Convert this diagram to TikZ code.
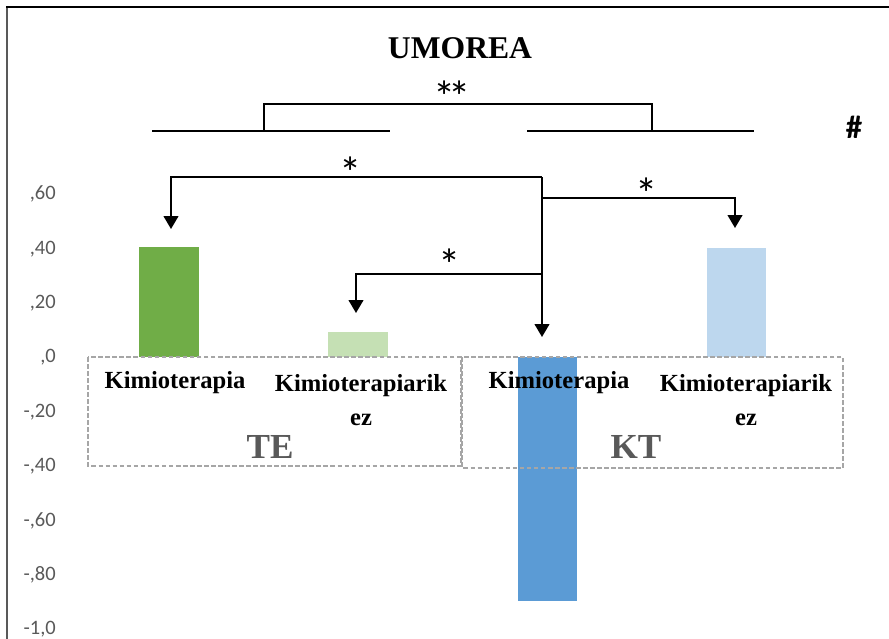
\documentclass[tikz,border=0pt]{standalone}
\usepackage{fontspec}
\setmainfont{Liberation Serif}
\newfontfamily\calib{Carlito}
\usetikzlibrary{arrows.meta}
\definecolor{tedark}{HTML}{70AD47}
\definecolor{telight}{HTML}{C5E0B4}
\definecolor{ktdark}{HTML}{5B9BD5}
\definecolor{ktlight}{HTML}{BDD7EE}
\definecolor{boxgray}{HTML}{A6A6A6}
\definecolor{labgray}{HTML}{595959}
\begin{document}
\begin{tikzpicture}[x=0.03cm, y=-0.03cm,
    arr/.style={-{Triangle[length=11pt,width=12.5pt]}, line width=1.6pt},
    brk/.style={line width=1.6pt},
    grp box/.style={draw=boxgray, line width=1.2pt, dash pattern=on 4pt off 2pt},
    cat/.style={font=\bfseries\fontsize{21}{29}\selectfont, align=center},
    grp/.style={font=\bfseries\fontsize{30}{34}\selectfont, text=labgray},
    tick/.style={anchor=east, inner sep=0pt, text=labgray, font=\calib\fontsize{17.5}{20}\selectfont},
    star/.style={font=\calib\fontsize{38}{40}\selectfont}]
        \useasboundingbox (0,0) rectangle (889,639);
        \draw[line width=1.7pt, labgray] (7,639) -- (7,7);
        \draw[line width=1.7pt] (6,7) -- (889,7);

          \foreach \t [count=\i from 0] in {{,60},{,40},{,20},{,0},{-,20},{-,40},{-,60},{-,80},{-1,0}}
            \node[tick] (y\i) at (56,194.3+54.4*\i) {\t};

          \fill[tedark] (139,247) rectangle (199,357);
          \fill[telight] (328,332) rectangle (388,357);
          \fill[ktdark] (518,357) rectangle (577,601);
          \fill[ktlight] (707,248) rectangle (766,357);

          \draw[grp box] (88,357) rectangle (461,466);
          \draw[grp box] (462,357) rectangle (843,468);

          \node[font=\bfseries\fontsize{27}{30}\selectfont] (title) at (460,48) {UMOREA};
          \node[cat] (te1) at (175,383) {Kimioterapia};
          \node[cat] (te2) at (361,400) {Kimioterapiarik\\ez};
          \node[grp] (te) at (270,447) {TE};
          \node[cat] (kt1) at (559,383) {Kimioterapia};
          \node[cat] (kt2) at (746,400) {Kimioterapiarik\\ez};
          \node[grp] (kt) at (636,447) {KT};

          \coordinate (l1) at (152,131);
          \coordinate (l2) at (390,131);
          \coordinate (r1) at (527,131);
          \coordinate (r2) at (754,131);
          \coordinate (bl) at (264,131);
          \coordinate (br) at (652,131);
          \draw[brk] (l1) -- (l2);
          \draw[brk] (r1) -- (r2);
          \draw[brk] (bl) -- ++(0,-27) -| (br);
          \node[star] (s0) at (452,97) {*\kern-0.17em*};
          \node[font=\calib\bfseries\fontsize{28}{30}\selectfont] (hash) at (854,127) {\#};

          \coordinate (jtop) at (542,177);
          \coordinate (jright) at (542,198);
          \coordinate (jlow) at (542,274);
          \coordinate (a1) at (171,229);
          \coordinate (a2) at (356,313);
          \coordinate (a3) at (542,337);
          \coordinate (a4) at (735,228);
          \draw[arr] (jtop) -| (a1);
          \draw[arr] (jtop) -- (a3);
          \draw[arr] (jright) -| (a4);
          \draw[arr] (jlow) -| (a2);
          \node[star] (s1) at (351,172.5) {*};
          \node[star] (s2) at (647,193.5) {*};
          \node[star] (s3) at (450,264.5) {*};

\end{tikzpicture}
\end{document}
